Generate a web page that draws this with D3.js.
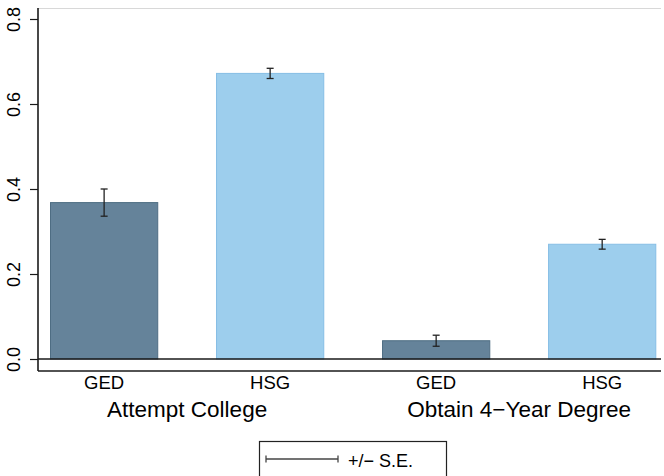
<!DOCTYPE html>
<html>
<head>
<meta charset="utf-8">
<script src="https://cdn.jsdelivr.net/npm/d3@7"></script>
<style>
  html, body { margin: 0; padding: 0; background: #fff; }
  svg { display: block; font-family: "Liberation Sans", Arial, Helvetica, sans-serif; }
</style>
</head>
<body>
<svg id="chart" width="664" height="476"></svg>
<script>
// Outcome groups and schooling credential of each bar
const groups = ["Attempt College", "Obtain 4\u2212Year Degree"];
const credentials = ["GED", "HSG"];
const barGroup = [0, 0, 1, 1];
const barCredential = ["GED", "HSG", "GED", "HSG"];
// Mean share and standard error of each bar
const means = [0.368, 0.672, 0.043, 0.270];
const stdErrors = [0.032, 0.012, 0.013, 0.0115];
const yTicks = [0, 0.2, 0.4, 0.6, 0.8];

const fillColor = { GED: "#65839a", HSG: "#9dceed" };
const edgeColor = { GED: "#4e6d83", HSG: "#86bee5" };

const svg = d3.select("#chart");
const plotLeft = 38, plotRight = 661, plotTop = 8, axisBottom = 371;

const y = d3.scaleLinear().domain([0, 0.8]).range([359, 19]);
const x = d3.scaleBand()
  .domain(d3.range(means.length))
  .range([50, 656.3])
  .paddingInner(0.348)
  .paddingOuter(0);

// light top edge of the plot region
svg.append("line").attr("x1", plotLeft).attr("x2", plotRight).attr("y1", plotTop + 0.5).attr("y2", plotTop + 0.5)
  .attr("stroke", "#d8d8d8").attr("stroke-width", 1);

// bars
svg.append("g").selectAll("rect").data(means).join("rect")
  .attr("x", (d, i) => x(i) + 0.5)
  .attr("y", d => y(d))
  .attr("width", x.bandwidth() - 1)
  .attr("height", d => y(0) - y(d))
  .attr("fill", (d, i) => fillColor[barCredential[i]])
  .attr("stroke", (d, i) => edgeColor[barCredential[i]])
  .attr("stroke-width", 1);

// zero reference line
svg.append("line").attr("x1", plotLeft).attr("x2", plotRight).attr("y1", y(0)).attr("y2", y(0))
  .attr("stroke", "#1a1a1a").attr("stroke-width", 1.6);

// error bars
const eb = svg.append("g").attr("stroke", "#222").attr("stroke-width", 1.3);
means.forEach((m, i) => {
  const cx = x(i) + x.bandwidth() / 2;
  const hi = y(m + stdErrors[i]), lo = y(m - stdErrors[i]);
  eb.append("line").attr("x1", cx).attr("x2", cx).attr("y1", hi).attr("y2", lo);
  eb.append("line").attr("x1", cx - 3.5).attr("x2", cx + 3.5).attr("y1", hi).attr("y2", hi);
  eb.append("line").attr("x1", cx - 3.5).attr("x2", cx + 3.5).attr("y1", lo).attr("y2", lo);
});

// y axis with rotated tick labels
const yAxis = svg.append("g").attr("transform", `translate(${plotLeft},0)`)
  .call(d3.axisLeft(y).tickValues(yTicks).tickFormat(d3.format(".1f")).tickSize(8).tickSizeOuter(0));
yAxis.select(".domain").remove();
yAxis.selectAll(".tick line").attr("stroke", "#1a1a1a").attr("stroke-width", 1.2);
yAxis.selectAll(".tick text")
  .attr("font-size", 18).attr("fill", "#000")
  .attr("text-anchor", "middle")
  .attr("x", 0).attr("y", 0).attr("dy", 0)
  .attr("transform", "translate(-18.5,0) rotate(-90)");

svg.append("line").attr("x1", plotLeft).attr("x2", plotLeft).attr("y1", plotTop).attr("y2", axisBottom)
  .attr("stroke", "#1a1a1a").attr("stroke-width", 1.6);
svg.append("line").attr("x1", plotLeft).attr("x2", plotRight).attr("y1", axisBottom).attr("y2", axisBottom)
  .attr("stroke", "#1a1a1a").attr("stroke-width", 1.6);

// category labels
svg.append("g").selectAll("text").data(barCredential).join("text")
  .attr("x", (d, i) => x(i) + x.bandwidth() / 2)
  .attr("y", 388.5)
  .attr("text-anchor", "middle")
  .attr("font-size", 18.5)
  .text(d => d);

// group labels, centred under their bars
svg.append("g").selectAll("text").data(groups).join("text")
  .attr("x", (g, gi) => {
    const idx = barGroup.map((v, i) => v === gi ? i : -1).filter(i => i >= 0);
    const a = x(idx[0]) + x.bandwidth() / 2, b = x(idx[idx.length - 1]) + x.bandwidth() / 2;
    return (a + b) / 2;
  })
  .attr("y", 417)
  .attr("text-anchor", "middle")
  .attr("font-size", 22.5)
  .text(d => d);

// legend
const lg = svg.append("g");
lg.append("rect").attr("x", 259.5).attr("y", 441.5).attr("width", 187).attr("height", 60)
  .attr("fill", "#fff").attr("stroke", "#222").attr("stroke-width", 1.2);
lg.append("line").attr("x1", 266).attr("x2", 338).attr("y1", 459).attr("y2", 459)
  .attr("stroke", "#444").attr("stroke-width", 1.3);
lg.append("line").attr("x1", 266).attr("x2", 266).attr("y1", 455.5).attr("y2", 462.5)
  .attr("stroke", "#444").attr("stroke-width", 1.3);
lg.append("line").attr("x1", 338).attr("x2", 338).attr("y1", 455.5).attr("y2", 462.5)
  .attr("stroke", "#444").attr("stroke-width", 1.3);
lg.append("text").attr("x", 348).attr("y", 466.5).attr("font-size", 18).text("+/\u2212 S.E.");
</script>
</body>
</html>
